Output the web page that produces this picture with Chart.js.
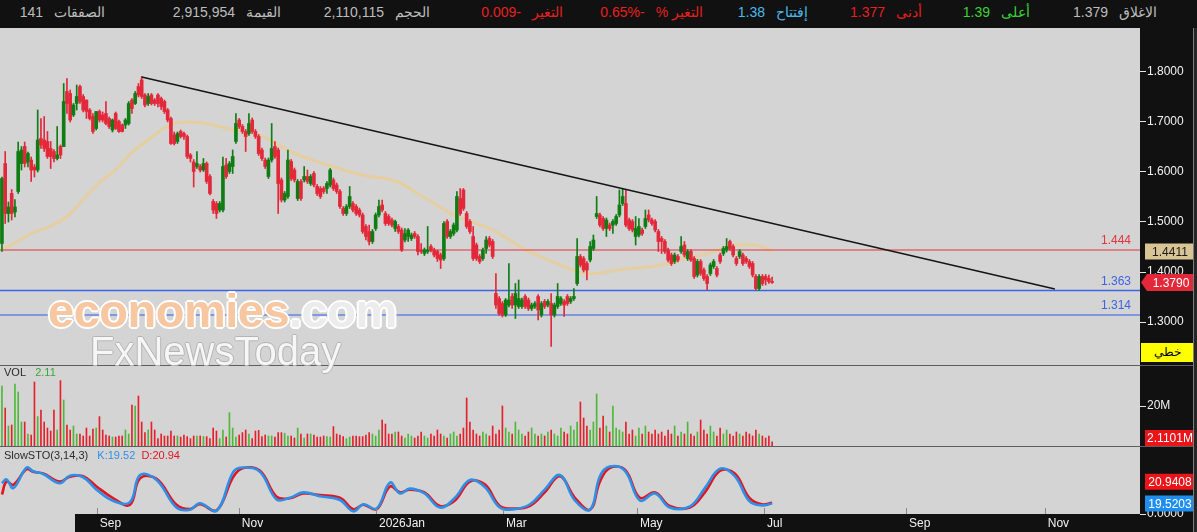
<!DOCTYPE html>
<html>
<head>
<meta charset="utf-8">
<script src="https://cdn.jsdelivr.net/npm/chart.js@4.4.1/dist/chart.umd.min.js"></script>
<style>
  body { margin:0; width:1197px; height:532px; background:#111; position:relative; overflow:hidden;
         font-family:"Liberation Sans", Arial, sans-serif; }
  .abs { position:absolute; }
  .top { top:4px; font-size:14px; white-space:nowrap; }
  .top .l { margin-left:11px; }
  .sep { left:0; width:1193px; height:1px; background:#5e5e5e; }
  .ttl { font-size:11px; color:#2b2b2b; white-space:nowrap; left:4px; }
  canvas { position:absolute; left:0; display:block; }
  .wm1 { left:48px; top:283px; font:bold 47px "Liberation Sans", Arial, sans-serif; letter-spacing:-0.5px; white-space:nowrap;
         text-shadow:-2px 0 #fff, 2px 0 #fff, 0 -2px #fff, 0 2px #fff, -1px -1px #fff, 1px 1px #fff, -1px 1px #fff, 1px -1px #fff; }
  .wm2 { left:90px; top:329px; font:40px "Liberation Sans", Arial, sans-serif; color:#f6f6f6; white-space:nowrap;
         text-shadow:-1px 0 #b4b4b4, 1px 0 #b4b4b4, 0 -1px #b4b4b4, 0 1px #b4b4b4; }
  .kind { left:1141px; top:343px; width:52px; height:19px; background:#ffff00; color:#000; font-size:12px;
          text-align:center; line-height:19px; }
</style>
</head>
<body>

<div class="abs top" style="right:40px"><span style="color:#bdbdbd">1.379</span><span class="l" style="color:#bdbdbd">الاغلاق</span></div>
<div class="abs top" style="right:167px"><span style="color:#3bd23b">1.39</span><span class="l" style="color:#3bd23b">أعلى</span></div>
<div class="abs top" style="right:275px"><span style="color:#e8201e">1.377</span><span class="l" style="color:#e8201e">أدنى</span></div>
<div class="abs top" style="right:389px"><span style="color:#4cb8e8">1.38</span><span class="l" style="color:#4cb8e8">إفتتاح</span></div>
<div class="abs top" style="right:494px"><span dir="rtl" style="color:#e8201e">-0.65%</span><span class="l" dir="rtl" style="color:#e8201e">التغير %</span></div>
<div class="abs top" style="right:634px"><span dir="rtl" style="color:#e8201e">-0.009</span><span class="l" style="color:#e8201e">التغير</span></div>
<div class="abs top" style="right:767px"><span style="color:#bdbdbd">2,110,115</span><span class="l" style="color:#bdbdbd">الحجم</span></div>
<div class="abs top" style="right:916px"><span style="color:#bdbdbd">2,915,954</span><span class="l" style="color:#bdbdbd">القيمة</span></div>
<div class="abs top" style="right:1092px"><span style="color:#bdbdbd">141</span><span class="l" style="color:#bdbdbd">الصفقات</span></div>

<canvas id="mainChart" width="1193" height="337" style="top:28px"></canvas>
<div class="abs sep" style="top:365px"></div>
<canvas id="volChart" width="1193" height="80" style="top:366px"></canvas>
<div class="abs sep" style="top:446px"></div>
<canvas id="stoChart" width="1193" height="85" style="top:447px"></canvas>
<div class="abs" style="left:1193px;top:28px;width:1px;height:504px;background:#7c7c7c"></div>
<div class="abs" style="left:1194px;top:28px;width:3px;height:504px;background:#262626"></div>

<div class="abs wm1"><span style="color:#f7c7a2">economies</span><span style="color:#ececec">.com</span></div>
<div class="abs wm2">FxNewsToday</div>

<div class="abs ttl" style="top:366px">VOL&nbsp;&nbsp;&nbsp;<span style="color:#3aa83a" id="volTxt"></span></div>
<div class="abs ttl" style="top:449px">SlowSTO(3,14,3)&nbsp;&nbsp;&nbsp;<span style="color:#2e8fe6" id="kTxt"></span>&nbsp;&nbsp;<span style="color:#e0151f" id="dTxt"></span></div>
<div class="abs kind">خطي</div>

<script>
// ---- price candles (daily) ----
const opens = [
  1.457,1.617,1.517,1.557,1.520,1.561,1.617,1.651,1.620,1.624,
  1.610,1.604,1.667,1.664,1.661,1.647,1.641,1.627,1.651,1.651,
  1.761,1.757,1.714,1.737,1.771,1.751,1.744,1.724,1.711,1.687,
  1.721,1.714,1.717,1.707,1.684,1.717,1.701,1.694,1.694,1.697,
  1.744,1.737,1.771,1.784,1.754,1.737,1.754,1.744,1.754,1.747,
  1.741,1.724,1.707,1.674,1.661,1.681,1.677,1.671,1.634,1.620,
  1.611,1.611,1.604,1.617,1.591,1.541,1.537,1.524,1.524,1.614,
  1.601,1.611,1.661,1.704,1.691,1.681,1.677,1.704,1.681,1.671,
  1.644,1.624,1.591,1.624,1.651,1.644,1.584,1.544,1.551,1.621,
  1.604,1.547,1.581,1.584,1.591,1.577,1.597,1.571,1.567,1.567,
  1.567,1.574,1.584,1.574,1.561,1.527,1.517,1.531,1.537,1.531,
  1.524,1.514,1.491,1.481,1.461,1.487,1.514,1.534,1.517,1.511,
  1.504,1.487,1.491,1.484,1.464,1.471,1.467,1.477,1.471,1.444,
  1.437,1.441,1.451,1.444,1.441,1.434,1.427,1.501,1.471,1.477,
  1.484,1.547,1.564,1.517,1.501,1.471,1.454,1.431,1.427,1.447,
  1.467,1.461,1.357,1.347,1.337,1.314,1.334,1.351,1.334,1.331,
  1.331,1.351,1.344,1.327,1.331,1.351,1.314,1.341,1.334,1.337,
  1.314,1.331,1.337,1.341,1.351,1.341,1.347,1.377,1.431,1.427,
  1.417,1.424,1.447,1.511,1.514,1.507,1.487,1.494,1.494,1.497,
  1.514,1.537,1.537,1.504,1.501,1.471,1.474,1.484,1.491,1.514,
  1.504,1.501,1.481,1.467,1.461,1.444,1.434,1.421,1.431,1.441,
  1.454,1.427,1.441,1.427,1.394,1.421,1.404,1.391,1.397,1.411,
  1.407,1.434,1.437,1.444,1.461,1.451,1.427,1.431,1.434,1.427,
  1.421,1.417,1.391,1.367,1.391,1.391,1.387,1.380
];
const highs = [
  1.590,1.641,1.540,1.565,1.545,1.660,1.651,1.660,1.640,1.630,
  1.615,1.724,1.707,1.711,1.681,1.661,1.645,1.691,1.654,1.777,
  1.787,1.764,1.737,1.774,1.774,1.755,1.744,1.727,1.717,1.721,
  1.724,1.720,1.741,1.710,1.706,1.720,1.704,1.696,1.707,1.741,
  1.747,1.761,1.777,1.791,1.757,1.757,1.757,1.747,1.757,1.750,
  1.744,1.727,1.710,1.680,1.680,1.684,1.680,1.674,1.637,1.625,
  1.641,1.615,1.627,1.620,1.595,1.545,1.541,1.541,1.630,1.627,
  1.621,1.644,1.717,1.707,1.695,1.685,1.717,1.708,1.685,1.675,
  1.648,1.628,1.628,1.697,1.661,1.648,1.588,1.561,1.644,1.625,
  1.608,1.585,1.585,1.611,1.604,1.595,1.601,1.575,1.571,1.571,
  1.581,1.607,1.588,1.578,1.565,1.531,1.535,1.571,1.541,1.535,
  1.528,1.518,1.495,1.494,1.485,1.518,1.544,1.544,1.521,1.515,
  1.508,1.504,1.495,1.488,1.487,1.487,1.478,1.481,1.475,1.457,
  1.448,1.491,1.455,1.448,1.444,1.438,1.501,1.505,1.485,1.498,
  1.561,1.567,1.567,1.521,1.505,1.491,1.458,1.435,1.448,1.471,
  1.471,1.465,1.397,1.351,1.341,1.347,1.417,1.357,1.377,1.384,
  1.348,1.355,1.348,1.338,1.341,1.355,1.341,1.345,1.345,1.357,
  1.338,1.377,1.351,1.345,1.355,1.351,1.367,1.467,1.435,1.431,
  1.421,1.461,1.474,1.551,1.518,1.511,1.508,1.498,1.505,1.515,
  1.564,1.567,1.564,1.508,1.505,1.511,1.507,1.488,1.524,1.524,
  1.508,1.505,1.485,1.471,1.465,1.448,1.438,1.438,1.435,1.471,
  1.461,1.445,1.445,1.431,1.425,1.425,1.408,1.395,1.418,1.425,
  1.411,1.438,1.451,1.467,1.464,1.455,1.431,1.445,1.438,1.431,
  1.425,1.421,1.395,1.395,1.395,1.395,1.394,1.390
];
const lows = [
  1.441,1.497,1.500,1.504,1.510,1.557,1.604,1.610,1.610,1.581,
  1.590,1.600,1.647,1.641,1.627,1.607,1.620,1.624,1.627,1.651,
  1.717,1.700,1.711,1.724,1.737,1.720,1.707,1.704,1.677,1.684,
  1.700,1.700,1.694,1.687,1.680,1.685,1.679,1.680,1.687,1.694,
  1.717,1.735,1.750,1.747,1.730,1.733,1.734,1.733,1.730,1.725,
  1.717,1.700,1.655,1.654,1.657,1.668,1.665,1.627,1.620,1.570,
  1.607,1.600,1.601,1.577,1.554,1.517,1.507,1.520,1.520,1.587,
  1.597,1.597,1.657,1.687,1.677,1.641,1.673,1.677,1.667,1.633,
  1.623,1.607,1.587,1.620,1.627,1.517,1.540,1.540,1.547,1.583,
  1.580,1.543,1.543,1.580,1.577,1.573,1.570,1.553,1.547,1.557,
  1.557,1.570,1.563,1.557,1.527,1.513,1.513,1.527,1.520,1.513,
  1.510,1.477,1.464,1.454,1.457,1.483,1.510,1.520,1.493,1.493,
  1.490,1.481,1.477,1.441,1.460,1.461,1.463,1.467,1.434,1.437,
  1.433,1.437,1.440,1.430,1.421,1.407,1.423,1.467,1.467,1.473,
  1.480,1.513,1.523,1.487,1.477,1.423,1.423,1.417,1.423,1.437,
  1.450,1.427,1.327,1.313,1.310,1.311,1.330,1.327,1.307,1.327,
  1.327,1.327,1.323,1.323,1.327,1.304,1.310,1.327,1.330,1.251,
  1.310,1.327,1.333,1.311,1.333,1.337,1.343,1.373,1.410,1.400,
  1.384,1.420,1.443,1.507,1.490,1.483,1.471,1.483,1.477,1.493,
  1.510,1.533,1.490,1.483,1.480,1.454,1.470,1.473,1.487,1.500,
  1.493,1.480,1.441,1.437,1.437,1.420,1.413,1.417,1.420,1.437,
  1.430,1.423,1.421,1.387,1.390,1.393,1.383,1.364,1.393,1.407,
  1.390,1.417,1.433,1.440,1.443,1.430,1.413,1.427,1.413,1.417,
  1.407,1.390,1.364,1.363,1.373,1.374,1.377,1.377
];
const closes = [
  1.587,1.517,1.530,1.517,1.530,1.641,1.644,1.617,1.637,1.604,
  1.604,1.664,1.654,1.647,1.631,1.631,1.627,1.634,1.634,1.741,
  1.737,1.704,1.734,1.751,1.741,1.724,1.721,1.707,1.681,1.721,
  1.704,1.704,1.697,1.691,1.704,1.687,1.681,1.681,1.704,1.737,
  1.727,1.757,1.754,1.751,1.734,1.751,1.737,1.737,1.737,1.731,
  1.721,1.704,1.657,1.657,1.677,1.671,1.671,1.631,1.627,1.601,
  1.617,1.604,1.617,1.581,1.557,1.524,1.517,1.537,1.611,1.591,
  1.617,1.631,1.697,1.691,1.681,1.671,1.697,1.681,1.671,1.637,
  1.627,1.611,1.624,1.647,1.631,1.577,1.544,1.557,1.624,1.587,
  1.584,1.581,1.547,1.591,1.581,1.591,1.574,1.557,1.551,1.561,
  1.577,1.604,1.567,1.561,1.531,1.517,1.531,1.551,1.524,1.517,
  1.514,1.481,1.471,1.461,1.481,1.514,1.531,1.524,1.497,1.497,
  1.494,1.501,1.481,1.444,1.477,1.484,1.474,1.471,1.441,1.441,
  1.444,1.444,1.444,1.434,1.427,1.424,1.497,1.471,1.481,1.494,
  1.551,1.517,1.527,1.491,1.481,1.427,1.427,1.421,1.444,1.464,
  1.454,1.431,1.334,1.317,1.314,1.344,1.344,1.334,1.357,1.347,
  1.344,1.331,1.327,1.334,1.337,1.324,1.337,1.331,1.341,1.314,
  1.334,1.351,1.347,1.334,1.337,1.347,1.351,1.431,1.414,1.404,
  1.404,1.451,1.464,1.517,1.494,1.487,1.504,1.487,1.501,1.511,
  1.534,1.551,1.494,1.487,1.484,1.487,1.491,1.477,1.507,1.504,
  1.497,1.484,1.461,1.461,1.441,1.424,1.417,1.434,1.424,1.451,
  1.434,1.441,1.424,1.391,1.421,1.397,1.387,1.377,1.414,1.421,
  1.394,1.421,1.447,1.451,1.447,1.434,1.417,1.441,1.417,1.421,
  1.411,1.394,1.367,1.391,1.377,1.384,1.381,1.379
];

// volume in millions, one per candle
const volumes = [
  30,19,10,10.5,31,27,12,12,6,5.5,
  32,14.7,18,12,9,7.5,18,8,32.7,23,
  10.5,8,10,6,6,5,9,5,8.5,9,
  14.7,8,5.5,5,4.5,4.5,5,5,8,6,
  20.5,20,25,12,6.7,8,12,8,3.7,6,
  5,5,7.5,5,5,4.5,5.5,4.7,3.7,5,
  5,5,4.7,4.7,3.7,9,7.5,3.7,8,4.5,
  16.7,9,4.5,5.5,6.7,8,6,3.7,7.5,7.8,
  4.7,5.5,5,5,4.5,6.7,6.7,6.3,5,5,
  4,9,6,4,6,6,5.5,4.5,4.5,5,
  4.7,4.5,9.7,6,5.5,4.7,3.7,4.5,5,5,
  4.7,4.7,5.5,6.7,6,5,8,13,11,6,
  6,7,7,5,4,6,5,4,5,7,
  5,4,6,5,8,6,5,4,6,7,
  5,6,9,24,12,8,6,5,7,6,
  5,10,6,8,20,9,7,6,12,8,
  6,5,7,9,6,5,6,5,7,8,
  6,5,9,7,6,10,8,12,22,14,
  10,8,12,26,9,15,10,7,20,9,
  8,7,12,6,8,5,9,6,10,7,
  6,8,6,7,5,8,6,10,5,7,
  6,12,6,5,7,13,8,6,10,7,
  5,9,6,8,6,5,7,6,5,7,
  6,5,8,6,5,4,5,2.1101
];

// 50-day average line, read at a few positions (candle index / value)
const maIdx = [0,5.5,8.6,14.8,20,24.9,29.2,35.4,40.3,45.5,50.8,54.8,60.9,69.5,80,90.2,100.3,110.8,120.9,129.5,140,150.2,155.4,160.3,165.5,170.8,176.9,182.5,189.5,200,204.9,210.2,215.4,220.3,225.5,230.8,233.8,237];
const maVal = [1.444,1.464,1.476,1.491,1.511,1.544,1.574,1.607,1.641,1.667,1.691,1.699,1.699,1.687,1.671,1.637,1.614,1.594,1.582,1.551,1.511,1.487,1.467,1.447,1.431,1.417,1.401,1.397,1.404,1.411,1.417,1.427,1.434,1.444,1.454,1.454,1.451,1.4411];

// slow stochastic, read at turning points
const stoIdx = [0,1.4,3.5,7.6,9.6,12.7,17.8,20.9,25,29.1,34.3,39.4,42.5,47.6,53.7,57.8,60.9,66.1,71.2,74.3,79.4,84.5,88.6,92.7,97.8,104,108.1,111.2,115.3,119.4,122.5,
                125.5,130,134.8,139.4,144,148.6,153.2,157.8,162.5,167,171.7,176.3,181,184,187,191.7,196.3,201,205.5,211.7,216.3,221,225.5,230,233.8,237];
const stoK = [57,64,48,86,79,74,57,71,68,45,24,22,72,63,12,8,20,6,78,86,78,27,30,40,33,26,5,18,10,58,38,
              47,38,12,30,63,50,12,9,18,45,72,25,8,70,88,80,25,38,12,14,48,84,70,24,16,19.5203];
const stoD = [36,60,54,83,78,75,60,69,70,51,29,17,66,65,17,9,18,7,69,85,80,32,29,38,35,30,9,17,9,51,40,
              45,40,15,25,60,55,15,10,15,40,70,30,8,60,85,82,30,40,15,12,40,80,75,30,18,20.9408];

// support / resistance levels and the falling trend line
const levels = [1.444, 1.363, 1.314];
const trendIdx = [43, 324];
const trendVal = [1.79, 1.366];

// axis ticks
const priceTicks = [1.3, 1.4, 1.5, 1.6, 1.7, 1.8];
const volTicks = [20];
const stoTicks = [0];
const monthTicks = ['Sep', 'Nov', '2026Jan', 'Mar', 'May', 'Jul', 'Sep', 'Nov'];
const monthTickIdx = [29.2, 72.9, 115.1, 154.2, 195.4, 234.5, 278.2, 320.9];

// ---------------------------------------------------------------
Chart.defaults.font.family = '"Liberation Sans", Arial, sans-serif';
Chart.defaults.font.size = 12;

const X_MIN = -0.6, X_MAX = 350.2;
const AXIS_W = 53;
const upC = '#0f7d14', dnC = '#e3283a';
const volUp = '#4fb83a', volDn = '#e5202a';
const last = closes.length - 1;
const lastMA = maVal[maVal.length - 1];
const lastK = stoK[stoK.length - 1];
const lastD = stoD[stoD.length - 1];

const isUp = closes.map((c, i) => c >= opens[i]);

document.getElementById('volTxt').textContent = volumes[last].toFixed(2);
document.getElementById('kTxt').textContent = 'K:' + lastK.toFixed(2);
document.getElementById('dTxt').textContent = 'D:' + lastD.toFixed(2);

function panelBg(footGray, tickMarks) {
  return {
    id: 'panelBg',
    beforeDraw(chart) {
      const { ctx, chartArea: a, width, height } = chart;
      ctx.save();
      ctx.fillStyle = '#111';
      ctx.fillRect(0, 0, width, height);
      ctx.fillStyle = '#d4d4d4';
      ctx.fillRect(a.left, a.top, a.right - a.left, a.bottom - a.top);
      if (footGray) ctx.fillRect(0, a.bottom, footGray, height - a.bottom);
      ctx.restore();
    },
    afterDraw(chart) {
      if (!tickMarks) return;
      const { ctx, chartArea: a } = chart;
      const xs = chart.scales.x;
      ctx.save();
      ctx.strokeStyle = '#8a8a8a';
      ctx.lineWidth = 1;
      monthTickIdx.forEach(v => {
        const px = Math.round(xs.getPixelForValue(v)) + 0.5;
        ctx.beginPath();
        ctx.moveTo(px, a.bottom - 6);
        ctx.lineTo(px, a.bottom);
        ctx.stroke();
      });
      ctx.restore();
    }
  };
}

function levelLabels(items) {
  return {
    id: 'levelLabels',
    afterDatasetsDraw(chart) {
      const { ctx, chartArea: a } = chart;
      const ys = chart.scales.y;
      ctx.save();
      ctx.font = '12px "Liberation Sans", Arial, sans-serif';
      ctx.textAlign = 'right';
      ctx.textBaseline = 'bottom';
      items.forEach(it => {
        ctx.fillStyle = it.color;
        ctx.fillText(it.value.toFixed(3), a.right - 9, ys.getPixelForValue(it.value) - 3);
      });
      ctx.restore();
    }
  };
}

function valueTags(items) {
  return {
    id: 'valueTags',
    afterDraw(chart) {
      const { ctx, chartArea: a } = chart;
      const ys = chart.scales.y;
      ctx.save();
      ctx.font = '12px "Liberation Sans", Arial, sans-serif';
      ctx.textAlign = 'center';
      ctx.textBaseline = 'middle';
      items.forEach(t => {
        let cy = ys.getPixelForValue(t.value) + (t.shift || 0);
        cy = Math.min(cy, a.bottom - 8);
        const x0 = a.right + (t.arrow ? 7 : 5), x1 = a.right + AXIS_W;
        ctx.fillStyle = t.bg;
        ctx.beginPath();
        if (t.arrow) {
          ctx.moveTo(a.right + 1, cy);
          ctx.lineTo(x0, cy - 8.5);
          ctx.lineTo(x1, cy - 8.5);
          ctx.lineTo(x1, cy + 8.5);
          ctx.lineTo(x0, cy + 8.5);
          ctx.closePath();
        } else {
          ctx.rect(x0, cy - 8, x1 - x0, 16);
        }
        ctx.fill();
        ctx.fillStyle = t.fg;
        ctx.fillText(t.text, (x0 + x1) / 2 + 1, cy + 1);
      });
      ctx.restore();
    }
  };
}

function xAxis(show) {
  const ax = {
    type: 'linear', min: X_MIN, max: X_MAX, offset: false, display: show,
    grid: { display: false, drawTicks: false, offset: false }, border: { display: false }
  };
  if (show) {
    ax.position = 'bottom';
    ax.afterBuildTicks = s => { s.ticks = monthTickIdx.map(v => ({ value: v })); };
    ax.afterFit = s => { s.height = 18; s.paddingLeft = 0; s.paddingRight = 0; };
    ax.ticks = {
      color: '#f2f2f2', autoSkip: false, maxRotation: 0, minRotation: 0,
      align: 'start', labelOffset: 3, padding: 2,
      callback: (v, i) => monthTicks[i]
    };
  }
  return ax;
}

function yAxis(min, max, tickList, fmt) {
  return {
    type: 'linear', position: 'right', min: min, max: max, beginAtZero: false,
    border: { display: false },
    grid: { display: true, drawOnChartArea: false, drawTicks: true, tickLength: 6, color: '#e6e6e6' },
    afterBuildTicks: s => { s.ticks = tickList.map(v => ({ value: v })); },
    afterFit: s => { s.width = AXIS_W; s.paddingTop = 0; s.paddingBottom = 0; },
    ticks: { color: '#f2f2f2', padding: 1, callback: fmt }
  };
}

const common = {
  responsive: false,
  animation: false,
  devicePixelRatio: 1,
  layout: { padding: 0 },
  events: [],
  plugins: { legend: { display: false }, tooltip: { enabled: false } }
};

// ---- main price panel ----
new Chart(document.getElementById('mainChart'), {
  type: 'bar',
  data: {
    datasets: [
      {
        type: 'line', order: 5,
        data: maIdx.map((v, i) => ({ x: v, y: maVal[i] })),
        borderColor: 'rgba(232, 206, 150, 0.85)', borderWidth: 3, tension: 0.4,
        pointRadius: 0
      },
      ...levels.map((lv, k) => ({
        type: 'line', order: 4,
        data: [{ x: X_MIN, y: lv }, { x: X_MAX, y: lv }],
        borderColor: ['#e2343c', '#3d63e2', '#8098e0'][k],
        borderWidth: [1, 1.3, 2.2][k],
        pointRadius: 0
      })),
      {
        type: 'bar', order: 3, grouped: false,
        data: lows.map((l, i) => ({ x: i, y: [l, highs[i]] })),
        backgroundColor: isUp.map(u => u ? upC : dnC),
        barThickness: 1
      },
      {
        type: 'bar', order: 2, grouped: false,
        data: opens.map((o, i) => ({ x: i, y: [o, closes[i]] })),
        backgroundColor: isUp.map(u => u ? upC : dnC),
        barThickness: 3, minBarLength: 1
      },
      {
        type: 'line', order: 1,
        data: trendIdx.map((v, i) => ({ x: v, y: trendVal[i] })),
        borderColor: '#151515', borderWidth: 1.6, pointRadius: 0
      }
    ]
  },
  options: {
    ...common,
    scales: {
      x: xAxis(false),
      y: yAxis(1.214, 1.888, priceTicks, v => v.toFixed(4))
    }
  },
  plugins: [
    panelBg(0, false),
    levelLabels([
      { value: levels[0], color: '#e2343c' },
      { value: levels[1], color: '#3d63e2' },
      { value: levels[2], color: '#3d63e2' }
    ]),
    valueTags([
      { value: lastMA, text: lastMA.toFixed(4), bg: '#d8c495', fg: '#1a1a1a' },
      { value: closes[last], text: closes[last].toFixed(4), bg: '#e3283a', fg: '#fff', arrow: true }
    ])
  ]
});

// ---- volume panel ----
new Chart(document.getElementById('volChart'), {
  type: 'bar',
  data: {
    datasets: [{
      data: volumes.map((v, i) => ({ x: i, y: v })),
      backgroundColor: isUp.map(u => u ? volUp : volDn),
      barThickness: 1, grouped: false
    }]
  },
  options: {
    ...common,
    scales: {
      x: xAxis(false),
      y: yAxis(0, 40, volTicks, v => v + 'M')
    }
  },
  plugins: [
    panelBg(0, false),
    valueTags([
      { value: volumes[last], text: volumes[last].toFixed(4) + 'M', bg: '#ea1419', fg: '#fff' }
    ])
  ]
});

// ---- slow stochastic panel ----
new Chart(document.getElementById('stoChart'), {
  type: 'line',
  data: {
    datasets: [
      {
        data: stoIdx.map((v, i) => ({ x: v, y: stoK[i] })),
        borderColor: '#2e8fe6', borderWidth: 2.6, tension: 0.4, pointRadius: 0
      },
      {
        data: stoIdx.map((v, i) => ({ x: v, y: stoD[i] })),
        borderColor: '#e0151f', borderWidth: 2.6, tension: 0.4, pointRadius: 0
      }
    ]
  },
  options: {
    ...common,
    scales: {
      x: xAxis(true),
      y: yAxis(0, 124, stoTicks, v => v.toFixed(4))
    }
  },
  plugins: [
    panelBg(75, true),
    valueTags([
      { value: lastD, text: lastD.toFixed(4), bg: '#ea1419', fg: '#fff', shift: -21 },
      { value: lastK, text: lastK.toFixed(4), bg: '#1e8ff0', fg: '#fff' }
    ])
  ]
});
</script>
</body>
</html>
